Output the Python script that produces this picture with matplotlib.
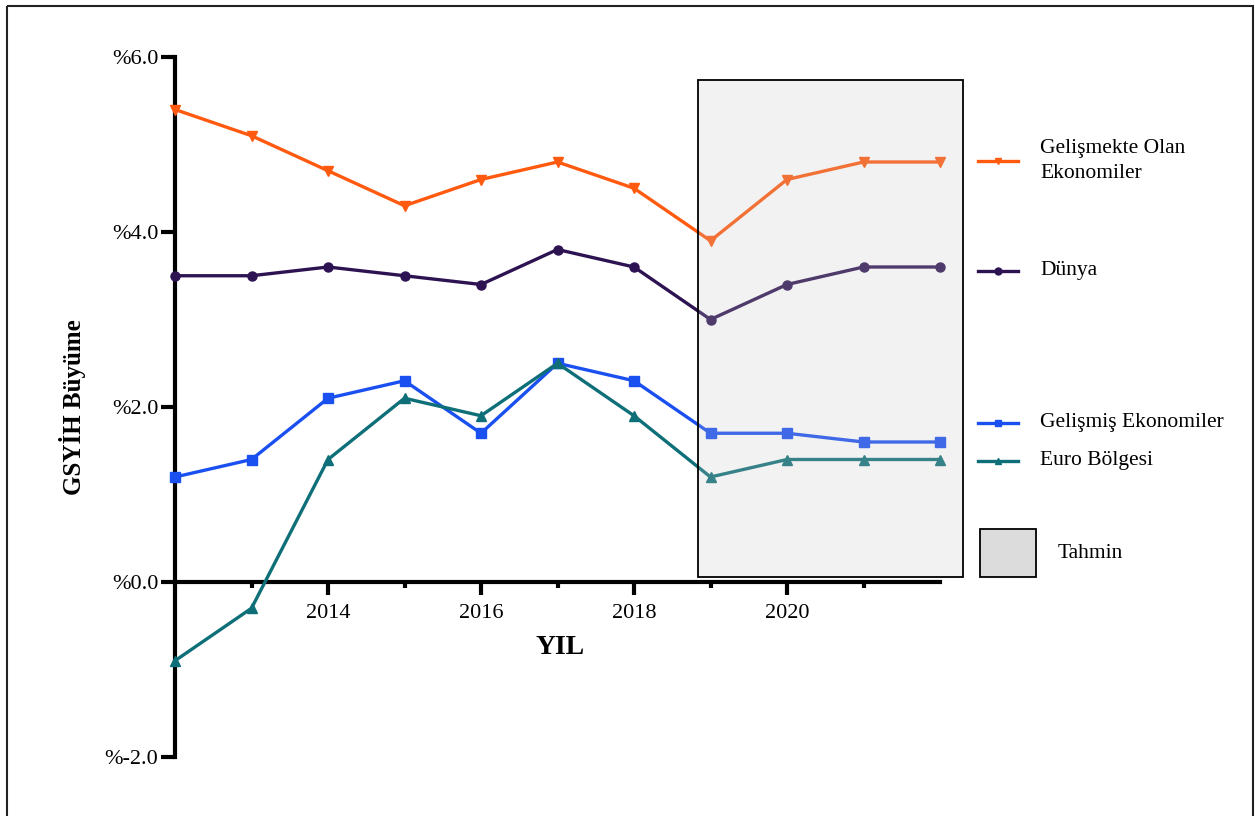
import matplotlib
matplotlib.use("Agg")
import matplotlib.pyplot as plt
from matplotlib.patches import Rectangle
from matplotlib.lines import Line2D

plt.rcParams['font.family'] = ['Liberation Serif', 'DejaVu Serif']

yillar = [2012, 2013, 2014, 2015, 2016, 2017, 2018, 2019, 2020, 2021, 2022]
gelismekte = [5.4, 5.1, 4.7, 4.3, 4.6, 4.8, 4.5, 3.9, 4.6, 4.8, 4.8]
dunya = [3.5, 3.5, 3.6, 3.5, 3.4, 3.8, 3.6, 3.0, 3.4, 3.6, 3.6]
gelismis = [1.2, 1.4, 2.1, 2.3, 1.7, 2.5, 2.3, 1.7, 1.7, 1.6, 1.6]
euro = [-0.9, -0.3, 1.4, 2.1, 1.9, 2.5, 1.9, 1.2, 1.4, 1.4, 1.4]

seriler = [
    ("Gelişmekte Olan\nEkonomiler", gelismekte, "#ff5a0f", "v"),
    ("Dünya", dunya, "#2d1352", "o"),
    ("Gelişmiş Ekonomiler", gelismis, "#1a4ff0", "s"),
    ("Euro Bölgesi", euro, "#0f6f78", "^"),
]
tahmin_bas, tahmin_son = 2018.84, 2022.3
y_ticks = [-2, 0, 2, 4, 6]

fig = plt.figure(figsize=(12.55, 8.16), dpi=100)
ax = fig.add_axes([175 / 1255, 1 - 757 / 816, 765 / 1255, 700 / 816])

for ad, degerler, renk, isaret in seriler:
    ax.plot(yillar, degerler, color=renk, lw=2.4, marker=isaret, ms=6.5,
            clip_on=False, zorder=3)

# tahmin bolgesi (cizgilerin ustunde, yari saydam)
ax.add_patch(Rectangle((tahmin_bas, 0.06), tahmin_son - tahmin_bas, 5.68,
                       facecolor="#c6c6c6", alpha=0.22, edgecolor="none",
                       clip_on=False, zorder=4))
ax.add_patch(Rectangle((tahmin_bas, 0.06), tahmin_son - tahmin_bas, 5.68,
                       fill=False, edgecolor="black", lw=1.3,
                       clip_on=False, zorder=5))

ax.set_xlim(2012, 2022)
ax.set_ylim(-2, 6)
ax.spines['top'].set_visible(False)
ax.spines['right'].set_visible(False)
ax.spines['bottom'].set_position(('data', 0))
ax.spines['left'].set_linewidth(3)
ax.spines['bottom'].set_linewidth(3)

ax.set_yticks(y_ticks)
ax.set_yticklabels([f"%{v:.1f}" for v in y_ticks], fontsize=16)
ax.set_xticks([2014, 2016, 2018, 2020])
ax.set_xticks([2013, 2015, 2017, 2019, 2021], minor=True)
ax.tick_params(axis='y', length=10, width=3, pad=2)
ax.tick_params(axis='x', which='major', length=9, width=3, labelsize=16, pad=7)
ax.tick_params(axis='x', which='minor', length=4, width=3)

fig.text(560 / 1255, 1 - 648 / 816, "YIL", fontsize=20, fontweight='bold',
         ha='center', va='center')
fig.text(72 / 1255, 1 - 407 / 816, "GSYİH Büyüme", fontsize=18,
         fontweight='bold', rotation=90, ha='center', va='center')

# elle cizilen gosterge
lax = fig.add_axes([0, 0, 1, 1])
lax.set_xlim(0, 1255)
lax.set_ylim(816, 0)
lax.axis('off')
lejant_y = [161, 271, 423, 461]
for (ad, degerler, renk, isaret), ly in zip(seriler, lejant_y):
    lax.add_line(Line2D([978, 1018], [ly, ly], color=renk, lw=2.4))
    lax.plot([998], [ly], marker=isaret, color=renk, ms=5)
    lax.text(1040, ly, ad, fontsize=15.5, va='center', ha='left',
             linespacing=1.4)
lax.add_patch(Rectangle((980, 529), 56, 48, facecolor="#dcdcdc",
                        edgecolor="black", lw=1.3))
lax.text(1058, 554, "Tahmin", fontsize=15.5, va='center', ha='left')

# dis cerceve
lax.add_patch(Rectangle((7, 6), 1246, 830, fill=False, edgecolor="#222222",
                        lw=1.5, clip_on=False))

fig.savefig("out.png", dpi=100)
